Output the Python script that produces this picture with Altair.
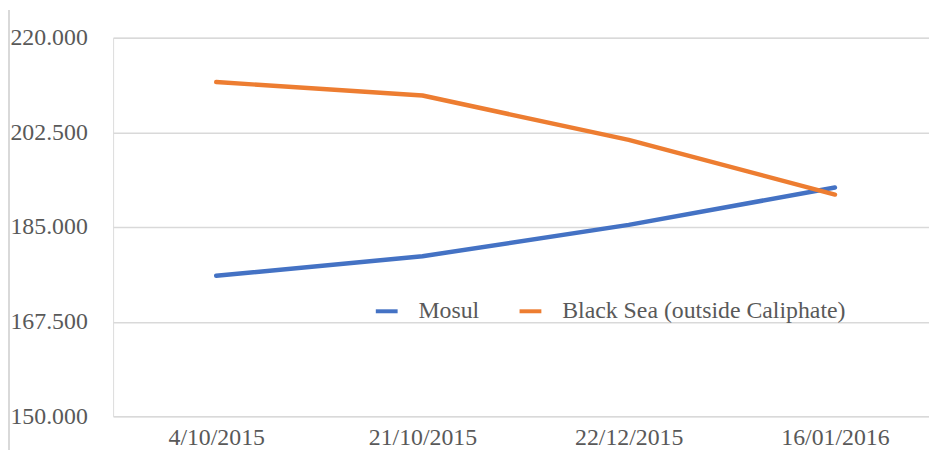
import altair as alt
import pandas as pd

dates = ["4/10/2015", "21/10/2015", "22/12/2015", "16/01/2016"]
series_names = ["Mosul", "Black Sea (outside Caliphate)"]
mosul = [176.0, 179.6, 185.4, 192.3]
black_sea = [211.8, 209.3, 201.1, 191.0]
colors = ["#4472C4", "#ED7D31"]
y_ticks = [150, 167.5, 185, 202.5, 220]

rows = []
for name, vals in zip(series_names, [mosul, black_sea]):
    for d, v in zip(dates, vals):
        rows.append({"date": d, "value": v, "series": name})
df = pd.DataFrame(rows)

FONT = "Liberation Serif"
GREY = "#595959"
FS = 24

lines = alt.Chart(df).mark_line(strokeWidth=4.5, strokeCap="round", strokeJoin="round").encode(
    x=alt.X("date:N", sort=dates, title=None,
            scale=alt.Scale(type="point", padding=0.478, align=0.523),
            axis=alt.Axis(labelAngle=0, ticks=False, domain=False, grid=False,
                          labelPadding=9, labelFont=FONT, labelFontSize=FS,
                          labelColor=GREY)),
    y=alt.Y("value:Q", title=None,
            scale=alt.Scale(domain=[150, 220], nice=False, zero=False),
            axis=alt.Axis(values=y_ticks, format=".3f", ticks=False, domain=False,
                          grid=True, gridColor="#d9d9d9", gridWidth=1.5,
                          labelAlign="left", labelPadding=104, labelFont=FONT,
                          labelFontSize=FS, labelColor=GREY)),
    color=alt.Color("series:N", sort=series_names,
                    scale=alt.Scale(domain=series_names, range=colors),
                    legend=alt.Legend(title=None, orient="none", direction="horizontal",
                                      legendX=263, legendY=263, padding=0,
                                      symbolType="stroke", symbolSize=484,
                                      symbolStrokeWidth=4, labelOffset=19,
                                      columnPadding=32, labelFont=FONT,
                                      labelFontSize=FS, labelColor=GREY,
                                      labelLimit=600)),
)

border = alt.Chart(pd.DataFrame({"a": [0]})).mark_rule(color="#d9d9d9", strokeWidth=2).encode(
    x=alt.value(-105), y=alt.value(-28), y2=alt.value(420)
)

chart = alt.layer(lines, border).properties(
    width=823, height=382,
    autosize=alt.AutoSizeParams(type="none"),
    padding={"left": 106, "top": 28, "right": 0, "bottom": 32},
).configure_view(stroke=None).configure(font=FONT)

chart.save("out.html", embed_options={"renderer": "svg", "actions": False})
